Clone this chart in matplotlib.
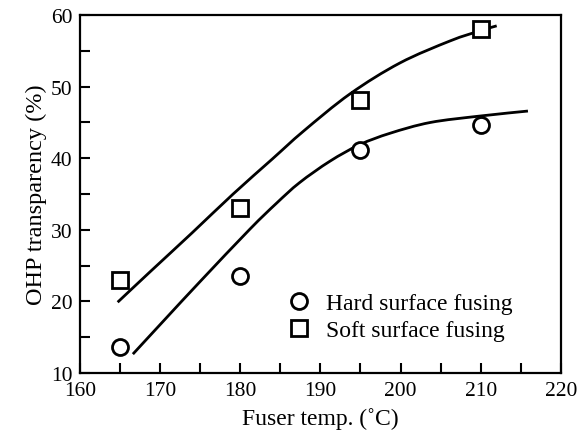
import matplotlib
matplotlib.use("Agg")
import matplotlib.pyplot as plt
from matplotlib.path import Path
from matplotlib.patches import PathPatch
from matplotlib.ticker import MultipleLocator

# measured points
temps = [165, 180, 195, 210]
hard_pts = [13.7, 23.5, 41.2, 44.7]
soft_pts = [23.0, 33.0, 48.2, 58.0]

# fitted curves
soft_curve_x = [164.7, 168.7, 174.0, 179.1, 184.0, 187.9, 193.7, 199.9, 206.2, 209.9, 212.0]
soft_curve_y = [19.9, 24.1, 29.6, 35.0, 39.9, 43.8, 49.0, 53.3, 56.4, 57.8, 58.5]
hard_curve_x = [166.6, 170.6, 175.0, 181.2, 184.5, 187.4, 191.2, 194.9, 198.7, 203.7, 209.9, 215.9]
hard_curve_y = [12.65, 17.5, 22.8, 30.1, 33.7, 36.6, 39.6, 41.9, 43.5, 45.0, 45.9, 46.6]


def smooth_path(xs, ys):
    # Catmull-Rom through the read points, as cubic Bezier segments
    pts = list(zip(xs, ys))
    verts = [pts[0]]
    codes = [Path.MOVETO]
    n = len(pts)
    for i in range(n - 1):
        p0 = pts[max(i - 1, 0)]
        p1 = pts[i]
        p2 = pts[i + 1]
        p3 = pts[min(i + 2, n - 1)]
        c1 = (p1[0] + (p2[0] - p0[0]) / 6, p1[1] + (p2[1] - p0[1]) / 6)
        c2 = (p2[0] - (p3[0] - p1[0]) / 6, p2[1] - (p3[1] - p1[1]) / 6)
        verts += [c1, c2, p2]
        codes += [Path.CURVE4] * 3
    return Path(verts, codes)


plt.rcParams["font.family"] = ["Liberation Serif", "DejaVu Serif"]

fig = plt.figure(figsize=(5.86, 4.35), dpi=100)
ax = fig.add_axes([0.1365, 0.140, 0.8205, 0.823])

for cx, cy in [(soft_curve_x, soft_curve_y), (hard_curve_x, hard_curve_y)]:
    ax.add_patch(PathPatch(smooth_path(cx, cy), fill=False, edgecolor="black", lw=2,
                           capstyle="butt"))

ax.plot(temps, hard_pts, "o", ms=11.5, mfc="white", mec="black", mew=2, label="Hard surface fusing")
ax.plot(temps, soft_pts, "s", ms=11, mfc="white", mec="black", mew=2, label="Soft surface fusing")

ax.set_xlim(160, 220)
ax.set_ylim(10, 60)
ax.xaxis.set_major_locator(MultipleLocator(10))
ax.xaxis.set_minor_locator(MultipleLocator(5))
ax.yaxis.set_major_locator(MultipleLocator(10))
ax.yaxis.set_minor_locator(MultipleLocator(5))
ax.tick_params(which="both", direction="in", length=7, width=1.5, labelsize=15.5)
ax.tick_params(axis="x", pad=6)
ax.tick_params(axis="y", pad=5.5)

for s in ax.spines.values():
    s.set_linewidth(1.6)

ax.set_xlabel("Fuser temp. (\u02daC)", fontsize=17, labelpad=5)
ax.set_ylabel("OHP transparency (%)", fontsize=17.5, labelpad=3)

ax.legend(loc="lower left", bbox_to_anchor=(0.43, 0.089), frameon=False, fontsize=17,
          handletextpad=0.65, borderaxespad=0, borderpad=0, labelspacing=0.25,
          handlelength=1.0)

fig.savefig("out.png", dpi=100)
